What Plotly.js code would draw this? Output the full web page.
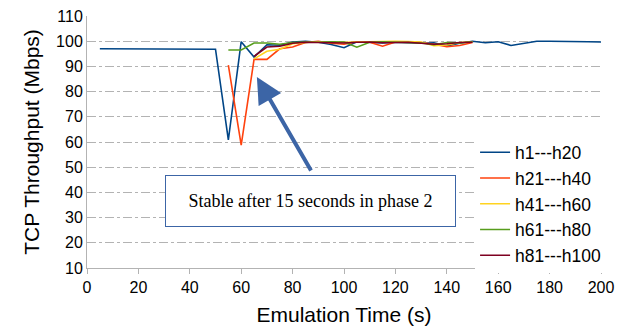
<!DOCTYPE html>
<html>
<head>
<meta charset="utf-8">
<script src="https://cdn.plot.ly/plotly-3.0.1.min.js"></script>
<style>html,body{margin:0;padding:0;background:#fff;}#chart{width:628px;height:333px;}</style>
</head>
<body>
<div id="chart"></div>
<script>
const seriesNames = ["h1---h20", "h21---h40", "h41---h60", "h61---h80", "h81---h100"];
const seriesColors = ["#004586", "#ff420e", "#ffd320", "#579d1c", "#7e0021"];

const timeH1 = [5,10,15,20,25,30,35,40,45,50,55,60,65,70,75,80,85,90,95,100,105,110,115,120,125,130,135,140,145,150,155,160,165,170,175,180,185,190,195,200];
const valH1 = [97.0,97.0,97.1,97.1,97.0,97.0,97.0,97.0,97.1,96.8,60.8,99.8,93.7,98.6,98.4,99.7,100.0,99.6,98.7,97.4,99.8,99.6,99.3,99.6,99.4,99.2,99.4,98.1,99.2,100.0,99.4,99.8,98.3,99.2,100.0,100.0,100.0,99.9,99.8,99.7];

const timeH21 = [55,60,65,70,75,80,85,90,95,100,105,110,115,120,125,130,135,140,145,150];
const valH21 = [90.5,58.8,92.8,92.8,97.0,97.7,99.5,100.0,99.2,98.8,99.8,99.6,98.0,99.7,99.8,99.5,98.8,97.8,98.3,99.5];

const timeH41 = [65,70,75,80,85,90,95,100,105,110,115,120,125,130,135,140,145,150];
const valH41 = [93.0,96.0,96.8,99.0,99.5,99.8,99.5,99.6,99.8,100.0,99.8,100.0,99.9,99.7,98.2,98.5,99.5,99.8];

const timeH61 = [55,60,65,70,75,80,85,90,95,100,105,110,115,120,125,130,135,140,145,150];
const valH61 = [96.5,96.5,99.3,99.3,98.8,99.5,99.7,99.6,99.8,99.7,97.6,99.6,99.8,99.7,99.6,99.3,98.6,99.5,99.3,99.8];

const timeH81 = [65,70,75,80,85,90,95,100,105,110,115,120,125,130,135,140,145,150];
const valH81 = [94.0,97.7,98.0,99.2,99.6,99.5,99.2,99.3,99.6,99.7,99.4,99.6,99.6,99.2,98.8,99.0,99.5,99.6];

const xTicks = [0,20,40,60,80,100,120,140,160,180,200];
const yTicks = [10,20,30,40,50,60,70,80,90,100,110];

const noteText = "Stable after 15 seconds in phase 2";

const times = [timeH1, timeH21, timeH41, timeH61, timeH81];
const vals = [valH1, valH21, valH41, valH61, valH81];

const traces = seriesNames.map((n, i) => ({
  x: times[i], y: vals[i], name: n, type: "scatter", mode: "lines",
  line: {color: seriesColors[i], width: 1.6}
}));

const layout = {
  width: 628, height: 333,
  margin: {l: 87, r: 27, t: 16, b: 65},
  paper_bgcolor: "#fff", plot_bgcolor: "#fff",
  font: {family: "Liberation Sans, Arial, sans-serif", color: "#000"},
  xaxis: {
    range: [0, 200], tickvals: xTicks, ticktext: xTicks.map(String),
    showgrid: false, zeroline: false,
    showline: true, linecolor: "#b3b3b3", linewidth: 1,
    ticks: "outside", ticklen: 5, tickcolor: "#b3b3b3",
    tickfont: {size: 16, color: "#000"},
    title: {text: "Emulation Time (s)", font: {size: 21, color: "#000"}, standoff: 12}
  },
  yaxis: {
    range: [10, 110], tickvals: yTicks, ticktext: yTicks.map(String),
    showgrid: true, gridcolor: "#b3b3b3", griddash: "dashdot", gridwidth: 1,
    zeroline: false, showline: true, linecolor: "#b3b3b3", linewidth: 1,
    ticks: "", tickfont: {size: 16, color: "#000"},
    title: {text: "TCP Throughput (Mbps)", font: {size: 21, color: "#000"}, standoff: 10}
  },
  showlegend: true,
  legend: {
    x: 0.755, y: 0.53, xanchor: "left", yanchor: "top",
    bgcolor: "#fff", borderwidth: 0,
    font: {size: 17.5, color: "#000"}, itemwidth: 30, tracegroupgap: 0
  },
  annotations: [
    {
      xref: "paper", yref: "paper", x: 0.4348, y: 0.2659,
      xanchor: "center", yanchor: "middle",
      text: noteText, showarrow: false,
      font: {family: "Liberation Serif, Times New Roman, serif", size: 18, color: "#000"},
      bgcolor: "#fff", bordercolor: "#3c65a6", borderwidth: 1,
      width: 287, height: 48
    },
    {
      xref: "x", yref: "y", x: 66.1, y: 85.8,
      text: "", showarrow: true, arrowhead: 2, arrowsize: 1.3, arrowwidth: 4,
      arrowcolor: "#3c65a6", ax: 55, ay: 95, standoff: 0
    }
  ]
};

Plotly.newPlot("chart", traces, layout, {displayModeBar: false, staticPlot: true});
</script>
</body>
</html>
